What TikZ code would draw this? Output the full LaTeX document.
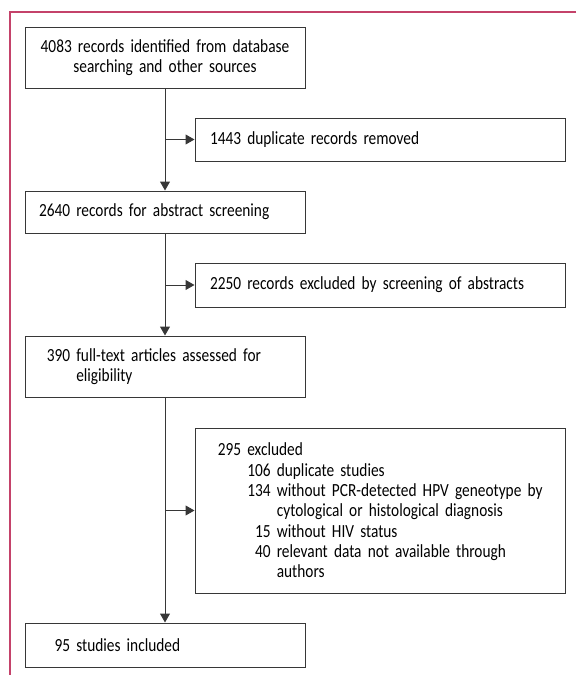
\documentclass[tikz,border=0pt]{standalone}
\usepackage{fontspec}
\setmainfont{Carlito}[FakeStretch=0.83]
\usetikzlibrary{arrows.meta}
\definecolor{framered}{RGB}{196,66,106}
\definecolor{linegray}{RGB}{55,55,55}
\newcommand{\boxfont}{\fontsize{18.5}{20.3}\selectfont
  \spaceskip=3.2pt\relax\xspaceskip=3.2pt\relax}
\newcommand{\numcol}[1]{\hphantom{0000}\llap{#1}}
\newcommand{\subcol}[1]{\hphantom{000}\llap{#1}}
\begin{document}
\begin{tikzpicture}
[x=1pt,y=-1pt,
  boxdecorate/.style={shape=rectangle,draw=linegray,line width=1pt,align=left,
    font=\boxfont,text=black},
  leftbox/.style={boxdecorate,text width=252pt,inner xsep=14pt},
  rightbox/.style={boxdecorate,text width=340pt,inner xsep=15pt},
  arrowdecorate/.style={-{Triangle[length=9pt,width=10pt]},draw=linegray,line width=1pt}]
\useasboundingbox (0,0) rectangle (576,675);
\draw[framered,line width=1.3pt] (576,12) -- (10,12) -- (10,675);
% boxes
\node (0) at (165,57.5) [boxdecorate,align=center,text width=270pt,inner xsep=5pt,minimum height=61pt]
  {4083 records identified from database\\searching and other sources};
\node (1) at (380,139.5) [rightbox,minimum height=43pt] {\numcol{1443} duplicate records removed};
\node (2) at (165,212) [leftbox,minimum height=42pt] {\numcol{2640} records for abstract screening};
\node (3) at (380,285) [rightbox,minimum height=44pt] {\numcol{2250} records excluded by screening of abstracts};
\node (4) at (165,366.5) [leftbox,minimum height=61pt]
  {\numcol{390} full-text articles assessed for\\\numcol{}\ eligibility};
\node (5) at (380,510.5) [rightbox,minimum height=165pt]
  {\numcol{295} excluded\\
   \numcol{}\ \subcol{106} duplicate studies\\
   \mbox{\numcol{}\ \subcol{134} without PCR-detected HPV geneotype by}\\
   \numcol{}\ \subcol{}\ cytological or histological diagnosis\\
   \numcol{}\ \subcol{15} without HIV status\\
   \numcol{}\ \subcol{40} relevant data not available through\\
   \numcol{}\ \subcol{}\ authors};
\node (6) at (165,645) [leftbox,minimum height=44pt] {\numcol{95} studies included};
% arrows
\path
(0) edge[arrowdecorate] (2)
(1.west -| 0.south) edge[arrowdecorate] (1.west)
(2) edge[arrowdecorate] (4)
(3.west -| 2.south) edge[arrowdecorate] (3.west)
(4) edge[arrowdecorate] (6)
(5.west -| 4.south) edge[arrowdecorate] (5.west);
\end{tikzpicture}
\end{document}
